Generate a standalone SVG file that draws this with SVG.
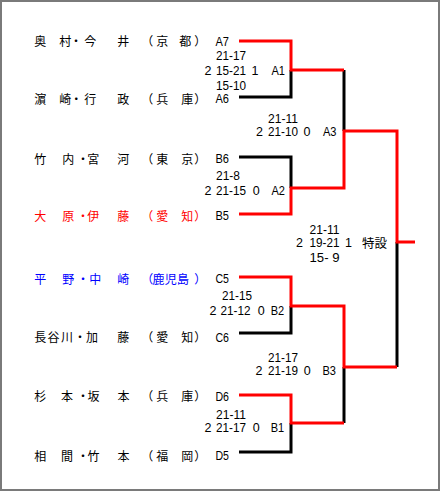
<svg xmlns="http://www.w3.org/2000/svg" width="441" height="492" viewBox="0 0 441 492">
<style>
.nm{font-family:"Noto Sans CJK JP","Noto Sans CJK SC",sans-serif;font-size:12px;fill:#000}
.red{fill:#ff0000}
.blue{fill:#0000ff}
.t{font-family:"Liberation Sans",Arial,sans-serif;font-size:12.5px;fill:#000}
.j{font-family:"Noto Sans CJK JP","Noto Sans CJK SC",sans-serif;font-size:12.5px;fill:#000}
.lk{fill:none;stroke:#000;stroke-width:3}
.lr{fill:none;stroke:#ff0000;stroke-width:3}
</style>
<rect x="1" y="1" width="438" height="489" fill="#fff" stroke="#7a7a7a" stroke-width="2"/>
<g id="connectors">
<path class="lk" d="M239,97 H291 V70"/>
<path class="lk" d="M344,70 V131"/>
<path class="lk" d="M239,157 H291 V188"/>
<path class="lk" d="M239,333 H291 V306"/>
<path class="lk" d="M239,452 H291 V423"/>
<path class="lk" d="M344,423 V367"/>
<path class="lk" d="M397,367 V242"/>
<path class="lr" d="M239,41 H291 V70 H344"/>
<path class="lr" d="M239,214 H291 V188 H344 V131 H397 V242 H415"/>
<path class="lr" d="M239,277 H291 V306 H344 V367 H397"/>
<path class="lr" d="M239,395 H291 V423 H344"/>
</g>
<g id="p1"><text class="nm" x="34.3 59.3 70 84.3 117.3 141.3 156.3 179.3 194.3" y="46">奥村・今井（京都）</text><text class="t" x="215.5" y="45.5" textLength="13.5" lengthAdjust="spacingAndGlyphs">A7</text></g>
<g id="p2"><text class="nm" x="34.3 59.3 70.2 84.3 117.3 141.3 156.3 181.3 194.3" y="103.5">濵崎・行政（兵庫）</text><text class="t" x="215.5" y="103" textLength="13.5" lengthAdjust="spacingAndGlyphs">A6</text></g>
<g id="p3"><text class="nm" x="34.3 62.3 77 87.3 117.3 141.3 156.3 181.3 194.3" y="163.5">竹内・宮河（東京）</text><text class="t" x="215.5" y="163" textLength="13.5" lengthAdjust="spacingAndGlyphs">B6</text></g>
<g id="p4"><text class="nm red" x="34.3 62.3 77 87.3 117.3 141.3 156.3 181.3 194.3" y="220.5">大原・伊藤（愛知）</text><text class="t" x="215.5" y="220" textLength="13.5" lengthAdjust="spacingAndGlyphs">B5</text></g>
<g id="p5"><text class="nm blue" x="34.3 62.3 77 89.3 117.3 141.3 152.6 164.8 177 194.3" y="283.5">平野・中崎（鹿児島）</text><text class="t" x="215.5" y="283" textLength="13.5" lengthAdjust="spacingAndGlyphs">C5</text></g>
<g id="p6"><text class="nm" x="34.3 47.6 61 74 86 117.3 141.3 156.3 181.3 194.3" y="342">長谷川・加藤（愛知）</text><text class="t" x="215.5" y="341.5" textLength="13.5" lengthAdjust="spacingAndGlyphs">C6</text></g>
<g id="p7"><text class="nm" x="34.3 61 77 87.6 117.6 141.3 156.3 181.3 194.3" y="401">杉本・坂本（兵庫）</text><text class="t" x="215.5" y="400.5" textLength="13.5" lengthAdjust="spacingAndGlyphs">D6</text></g>
<g id="p8"><text class="nm" x="34.3 61 77 87.6 117.6 141.3 156.3 181.3 194.3" y="460.5">相間・竹本（福岡）</text><text class="t" x="215.5" y="460" textLength="13.5" lengthAdjust="spacingAndGlyphs">D5</text></g>
<g id="m-A1">
<text class="t" x="216" y="60" textLength="30" lengthAdjust="spacingAndGlyphs">21-17</text>
<text class="t" x="204.5" y="75">2</text>
<text class="t" x="216" y="75" textLength="30" lengthAdjust="spacingAndGlyphs">15-21</text>
<text class="t" x="251.5" y="75">1</text>
<text class="t" x="271.5" y="75" textLength="13.5" lengthAdjust="spacingAndGlyphs">A1</text>
<text class="t" x="216" y="89.5" textLength="30" lengthAdjust="spacingAndGlyphs">15-10</text>
</g>
<g id="m-A3">
<text class="t" x="268" y="122.5" textLength="30" lengthAdjust="spacingAndGlyphs">21-11</text>
<text class="t" x="256" y="135.5">2</text>
<text class="t" x="268" y="135.5" textLength="30" lengthAdjust="spacingAndGlyphs">21-10</text>
<text class="t" x="303.5" y="135.5">0</text>
<text class="t" x="323" y="135.5" textLength="13.5" lengthAdjust="spacingAndGlyphs">A3</text>
</g>
<g id="m-A2">
<text class="t" x="216" y="180" textLength="24" lengthAdjust="spacingAndGlyphs">21-8</text>
<text class="t" x="204.5" y="195">2</text>
<text class="t" x="216" y="195" textLength="30" lengthAdjust="spacingAndGlyphs">21-15</text>
<text class="t" x="252.7" y="195">0</text>
<text class="t" x="271.5" y="195" textLength="13.5" lengthAdjust="spacingAndGlyphs">A2</text>
</g>
<g id="m-final">
<text class="t" x="309.5" y="234" textLength="30" lengthAdjust="spacingAndGlyphs">21-11</text>
<text class="t" x="296" y="247">2</text>
<text class="t" x="309.5" y="247" textLength="30" lengthAdjust="spacingAndGlyphs">19-21</text>
<text class="t" x="345" y="247">1</text>
<text class="j" x="362" y="247.5">特設</text>
<text class="t" x="309.5" y="261.5" textLength="30" lengthAdjust="spacingAndGlyphs">15- 9</text>
</g>
<g id="m-B2">
<text class="t" x="222" y="300" textLength="30" lengthAdjust="spacingAndGlyphs">21-15</text>
<text class="t" x="209.5" y="315">2</text>
<text class="t" x="220.5" y="315" textLength="30" lengthAdjust="spacingAndGlyphs">21-12</text>
<text class="t" x="257.7" y="315">0</text>
<text class="t" x="270.7" y="315" textLength="13.5" lengthAdjust="spacingAndGlyphs">B2</text>
</g>
<g id="m-B3">
<text class="t" x="268" y="361.5" textLength="30" lengthAdjust="spacingAndGlyphs">21-17</text>
<text class="t" x="255.5" y="375">2</text>
<text class="t" x="268" y="375" textLength="30" lengthAdjust="spacingAndGlyphs">21-19</text>
<text class="t" x="303.7" y="375">0</text>
<text class="t" x="322.5" y="375" textLength="13.5" lengthAdjust="spacingAndGlyphs">B3</text>
</g>
<g id="m-B1">
<text class="t" x="216" y="419" textLength="30" lengthAdjust="spacingAndGlyphs">21-11</text>
<text class="t" x="204.5" y="432">2</text>
<text class="t" x="216" y="432" textLength="30" lengthAdjust="spacingAndGlyphs">21-17</text>
<text class="t" x="252.7" y="432">0</text>
<text class="t" x="270.7" y="432" textLength="13.5" lengthAdjust="spacingAndGlyphs">B1</text>
</g>
</svg>
